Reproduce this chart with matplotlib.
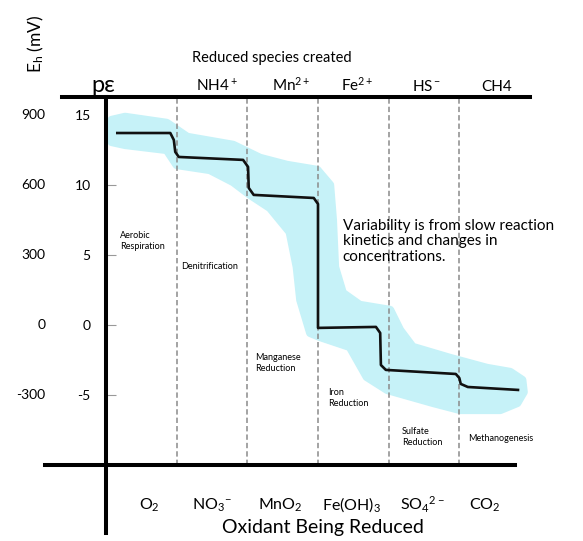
import matplotlib
matplotlib.use('Agg')
import matplotlib.pyplot as plt

plt.rcParams['font.family'] = ['Lato', 'DejaVu Sans']
plt.rcParams['mathtext.fontset'] = 'custom'
plt.rcParams['mathtext.rm'] = 'Lato'
plt.rcParams['mathtext.it'] = 'Lato'

# x is the zone index (0..6 across the columns), y is pe
pe_ticks = [15, 10, 5, 0, -5]
eh_labels = ['900', '600', '300', '0', '-300']

zone_edges = [1, 2, 3, 4, 5]

reduced_species = ['NH4$^+$', 'Mn$^{2+}$', 'Fe$^{2+}$', 'HS$^-$', 'CH4']
reduced_x = [1.57, 2.62, 3.55, 4.54, 5.53]

oxidants = ['O$_2$', 'NO$_3$$^{-}$', 'MnO$_2$', 'Fe(OH)$_3$', 'SO$_4$$^{2-}$', 'CO$_2$']
oxidant_x = [0.62, 1.50, 2.46, 3.48, 4.47, 5.36]

processes = ['Aerobic\nRespiration', 'Denitrification', 'Manganese\nReduction',
             'Iron\nReduction', 'Sulfate\nReduction', 'Methanogenesis']
process_x = [0.20, 1.07, 2.11, 3.15, 4.19, 5.12]
process_y = [6.0, 4.2, -2.7, -5.2, -8.0, -8.1]

# main redox ladder
ladder_x = [0.16, 0.91, 0.96, 0.98, 1.03, 1.94, 2.01, 2.02, 2.09, 2.94, 3.0, 3.0,
            3.82, 3.88, 3.89, 3.96, 4.95, 5.0, 5.02, 5.12, 5.83]
ladder_y = [13.71, 13.71, 13.21, 12.36, 12.0, 11.79, 11.29, 9.79, 9.29, 9.07, 8.64, -0.21,
            -0.14, -0.57, -2.86, -3.21, -3.5, -3.79, -4.21, -4.43, -4.64]

# variability envelope (upper edge left->right, then lower edge right->left)
band_x = [0.03, 0.08, 0.27, 0.86, 1.15, 1.80, 2.18, 2.56, 2.99, 3.17, 3.21, 3.24, 3.35,
          3.59, 4.02, 4.16, 4.34, 4.87, 5.39, 5.72, 5.89, 5.91, 5.82,
          5.58, 5.01, 4.63, 3.98, 3.69, 3.45, 3.03, 2.89, 2.75, 2.70, 2.60, 2.32, 2.04,
          1.80, 1.47, 1.0, 0.86, 0.27, 0.08]
band_y = [13.93, 14.64, 14.86, 14.43, 13.43, 12.86, 11.93, 11.43, 11.07, 10.0, 7.5, 4.14, 2.29,
          1.43, 1.07, -0.36, -1.57, -2.36, -3.07, -3.36, -3.93, -4.79, -5.57,
          -6.07, -6.07, -5.57, -4.64, -3.71, -1.57, -0.86, -0.57, 1.79, 4.14, 6.64, 8.36, 9.29,
          10.21, 11.07, 11.43, 12.5, 12.86, 13.07]

fig = plt.figure(figsize=(5.83, 5.41), dpi=100)
ax = fig.add_axes([0, 0, 1, 1])
ax.set_xlim(-1.5, 6.75)
ax.set_ylim(-15.43, 23.21)

top_y = 16.29
bottom_y = -10.0

ax.fill(band_x, band_y, color='#c6f2f8', ec='#c6f2f8', lw=6, joinstyle='round', zorder=1)
ax.plot(ladder_x, ladder_y, color='#111111', lw=1.9, solid_joinstyle='round', zorder=3)

for x in zone_edges:
    ax.plot([x, x], [bottom_y, top_y], color='#8a8a8a', lw=1.1, ls=(0, (3.5, 2)), zorder=2)

# axis lines
for s in ['right']:
    ax.spines[s].set_visible(False)
ax.spines['left'].set_position(('data', 0))
ax.spines['left'].set_bounds(-14.86, top_y)
ax.spines['top'].set_position(('data', top_y))
ax.spines['top'].set_bounds(-0.62, 6.0)
ax.spines['bottom'].set_position(('data', bottom_y))
ax.spines['bottom'].set_bounds(-0.86, 5.79)
for s in ['left', 'top', 'bottom']:
    ax.spines[s].set_linewidth(2.9)
    ax.spines[s].set_zorder(4)

ax.set_xticks([])
ax.set_yticks(pe_ticks)
ax.set_yticklabels([str(v) for v in pe_ticks], fontsize=10)
ax.tick_params(axis='y', direction='in', length=7, width=0.8, color='#999999', pad=11)
ax.yaxis.get_major_ticks()[0].tick1line.set_visible(False)

for v, lab in zip(pe_ticks, eh_labels):
    ax.text(-0.86, v, lab, ha='right', va='center', fontsize=10)

ax.text(-1.0, 20.1, 'E$_h$ (mV)', rotation=90, ha='center', va='center', fontsize=12.5)
ax.text(-0.04, 16.64, 'p\u03b5', ha='center', va='baseline', fontsize=17)

ax.text(2.35, 18.79, 'Reduced species created', ha='center', va='baseline', fontsize=10.5)
for x, lab in zip(reduced_x, reduced_species):
    ax.text(x, 16.71, lab, ha='center', va='baseline', fontsize=11)

for x, lab in zip(oxidant_x, oxidants):
    ax.text(x, -13.21, lab, ha='center', va='baseline', fontsize=11.5)
ax.text(3.07, -14.86, 'Oxidant Being Reduced', ha='center', va='baseline', fontsize=14)

for x, y, lab in zip(process_x, process_y, processes):
    ax.text(x, y, lab, ha='left', va='center', fontsize=6.5, linespacing=1.25)

ax.text(3.35, 7.6, 'Variability is from slow reaction\nkinetics and changes in\nconcentrations.',
        ha='left', va='top', fontsize=11, linespacing=1.15, zorder=5)

fig.savefig('out.png', dpi=100)
